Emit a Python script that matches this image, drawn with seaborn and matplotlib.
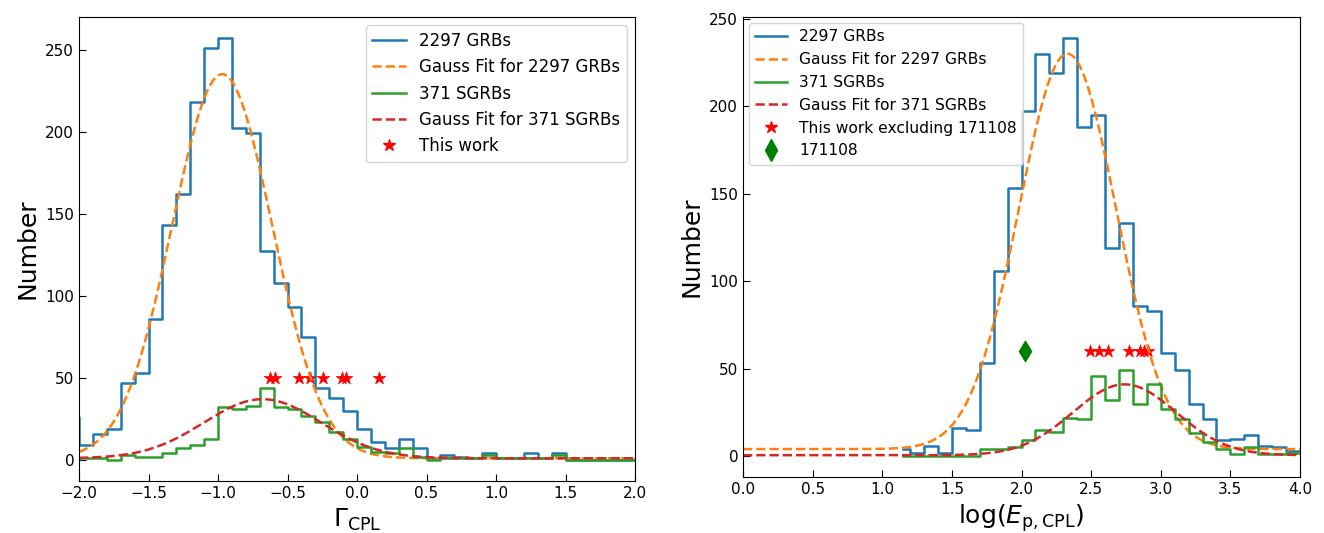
import numpy as np
import pandas as pd
import matplotlib
matplotlib.use("Agg")
import matplotlib.pyplot as plt
import seaborn as sns
from matplotlib.lines import Line2D

# ---- left panel: Gamma_CPL, bins of 0.1 from -2.1 to 2.0
gam_edges = np.round(np.arange(-2.1, 2.0001, 0.1), 2)
gam_all = [26,
           9, 16, 19, 47, 53, 86, 143, 162, 218, 251,
           257, 202, 199, 127, 108, 93, 75, 44, 38, 30,
           19, 11, 7, 13, 7, 1, 3, 2, 1, 4,
           1, 1, 4, 1, 4, 0, 0, 0, 0, 0]
gam_short = [0,
             1, 1, 0, 3, 2, 2, 4, 7, 9, 13,
             32, 31, 33, 44, 32, 31, 27, 23, 17, 13,
             8, 5, 4, 7, 2, 0, 1, 1, 1, 3,
             1, 1, 1, 1, 3, 0, 0, 0, 0, 0]
# gauss fit params: amplitude, mean, sigma, offset
gam_fit_all = (234, -0.97, 0.36, 1.0)
gam_fit_short = (36, -0.68, 0.42, 1.0)
gam_this_work = [-0.626, -0.590, -0.415, -0.338, -0.247, -0.110, -0.081, 0.158]
gam_star_y = 50

# ---- right panel: log(Ep,CPL)
ep_edges = np.concatenate([[1.15], np.round(np.arange(1.2, 4.0001, 0.1), 2)])
ep_all = [4, 2, 6, 2, 16, 15, 53, 106, 153, 197, 230, 219, 239, 188, 195,
          119, 133, 86, 83, 59, 49, 30, 21, 9, 10, 12, 6, 5, 3]
ep_short = [0, 0, 0, 0, 0, 0, 4, 4, 5, 9, 15, 14, 22, 21, 46,
            32, 49, 30, 41, 27, 21, 13, 8, 4, 1, 5, 1, 1, 2]
ep_fit_all = (226, 2.33, 0.35, 4.0)
ep_fit_short = (40.5, 2.74, 0.37, 0.5)
ep_this_work = [2.49, 2.56, 2.62, 2.77, 2.85, 2.88, 2.91]
ep_star_y = 60
ep_171108 = 2.025
ep_171108_y = 60

C_BLUE, C_ORANGE, C_GREEN, C_RED = "#1f77b4", "#ff7f0e", "#2ca02c", "#d62728"


def gauss(x, p):
    a, mu, sig, c = p
    return a * np.exp(-(x - mu) ** 2 / (2 * sig ** 2)) + c


def step_hist(ax, edges, counts, color):
    df = pd.DataFrame({"x": (edges[:-1] + edges[1:]) / 2, "w": counts})
    sns.histplot(data=df, x="x", weights="w", bins=list(edges), element="step",
                 fill=False, color=color, linewidth=1.8, ax=ax)


fig = plt.figure(figsize=(13.24, 5.33), dpi=100)
W, H = 1324, 533
ax1 = fig.add_axes([79 / W, 1 - 481 / H, (635 - 79) / W, (481 - 17) / H])
ax2 = fig.add_axes([743 / W, 1 - 477 / H, (1300 - 743) / W, (477 - 17) / H])

# left
step_hist(ax1, gam_edges, gam_all, C_BLUE)
xg = np.linspace(-2, 2, 400)
ax1.plot(xg, gauss(xg, gam_fit_all), "--", color=C_ORANGE, lw=1.8)
step_hist(ax1, gam_edges, gam_short, C_GREEN)
ax1.plot(xg, gauss(xg, gam_fit_short), "--", color=C_RED, lw=1.8)
sns.scatterplot(x=gam_this_work, y=[gam_star_y] * len(gam_this_work), marker="*",
                color="red", s=90, edgecolor="red", linewidth=0.5, ax=ax1)
ax1.set_xlim(-2, 2)
ax1.set_ylim(-12.85, 269.85)
ax1.set_xticks(np.arange(-2, 2.01, 0.5))
ax1.set_xlabel(r"$\Gamma_{\rm CPL}$", fontsize=18)
ax1.set_ylabel("Number", fontsize=18)
h1 = [Line2D([], [], color=C_BLUE, lw=1.8),
      Line2D([], [], color=C_ORANGE, lw=1.8, ls="--"),
      Line2D([], [], color=C_GREEN, lw=1.8),
      Line2D([], [], color=C_RED, lw=1.8, ls="--"),
      Line2D([], [], color="red", marker="*", ls="", ms=9)]
ax1.legend(h1, ["2297 GRBs", "Gauss Fit for 2297 GRBs", "371 SGRBs",
                "Gauss Fit for 371 SGRBs", "This work"],
           loc="upper right", fontsize=12)

# right
step_hist(ax2, ep_edges, ep_all, C_BLUE)
xe = np.linspace(0, 4, 400)
ax2.plot(xe, gauss(xe, ep_fit_all), "--", color=C_ORANGE, lw=1.8)
step_hist(ax2, ep_edges, ep_short, C_GREEN)
ax2.plot(xe, gauss(xe, ep_fit_short), "--", color=C_RED, lw=1.8)
sns.scatterplot(x=ep_this_work, y=[ep_star_y] * len(ep_this_work), marker="*",
                color="red", s=90, edgecolor="red", linewidth=0.5, ax=ax2)
sns.scatterplot(x=[ep_171108], y=[ep_171108_y], marker="d", color="green",
                s=110, edgecolor="green", ax=ax2)
ax2.set_xlim(0, 4)
ax2.set_ylim(-11.95, 250.95)
ax2.set_xticks(np.arange(0, 4.01, 0.5))
ax2.set_xlabel(r"$\log(E_{\rm p,CPL})$", fontsize=18)
ax2.set_ylabel("Number", fontsize=18)
h2 = [Line2D([], [], color=C_BLUE, lw=1.8),
      Line2D([], [], color=C_ORANGE, lw=1.8, ls="--"),
      Line2D([], [], color=C_GREEN, lw=1.8),
      Line2D([], [], color=C_RED, lw=1.8, ls="--"),
      Line2D([], [], color="red", marker="*", ls="", ms=9),
      Line2D([], [], color="green", marker="d", ls="", ms=11)]
ax2.legend(h2, ["2297 GRBs", "Gauss Fit for 2297 GRBs", "371 SGRBs",
                "Gauss Fit for 371 SGRBs", "This work excluding 171108", "171108"],
           loc="upper left", fontsize=11.2, borderaxespad=0.4)

for ax in (ax1, ax2):
    ax.tick_params(direction="in", labelsize=11, length=5)

fig.savefig("out.png", dpi=100)
